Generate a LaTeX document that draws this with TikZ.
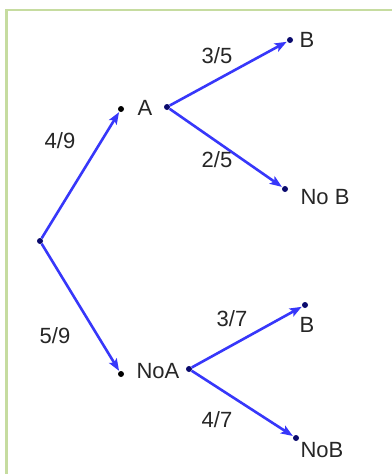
\documentclass[tikz,border=0pt]{standalone}
\usepackage{fontspec}
\setmainfont{Liberation Sans}
\usetikzlibrary{arrows.meta}
\definecolor{arrblue}{RGB}{55,55,250}
\definecolor{frame}{RGB}{198,220,160}
\definecolor{dotblue}{RGB}{10,10,110}
\tikzset{
  dot/.style={circle,fill=#1,inner sep=0pt,minimum size=6pt},
  dot/.default=dotblue,
  arr/.style={draw=arrblue,line width=2.6pt,-{Stealth[length=12pt,width=9pt,inset=2.5pt]},shorten >=0.5pt},
  lbl/.style={font=\fontsize{22}{26}\selectfont,inner sep=0pt,text=black!85}
}
\begin{document}
\begin{tikzpicture}[x=1pt,y=-1pt]
\useasboundingbox (0,0) rectangle (391,474);
\fill[white] (0,0) rectangle (391,474);
\draw[frame,line width=2.5pt] (6.5,480) -- (6.5,10) -- (400,10);
% dots
\node[dot] (r) at (40,241) {};
\node[dot=black] (a) at (121,109) {};
\node[dot] (as) at (167,107) {};
\node[dot] (b1) at (290,40) {};
\node[dot] (nb1) at (285,189) {};
\node[dot=black] (na) at (121,374) {};
\node[dot] (nas) at (189,369) {};
\node[dot] (b2) at (305,305) {};
\node[dot] (nb2) at (296,438) {};
% connectors
\draw[arr] (r) -- (a);
\draw[arr] (r) -- (na);
\draw[arr] (as) -- (b1);
\draw[arr] (as) -- (nb1);
\draw[arr] (nas) -- (b2);
\draw[arr] (nas) -- (nb2);
% labels
\node[lbl] (la) at (145,108) {A};
\node[lbl] (lb1) at (307,40) {B};
\node[lbl] (lnb1) at (325,197) {No B};
\node[lbl] (lna) at (158,371) {NoA};
\node[lbl] (lb2) at (307,325) {B};
\node[lbl] (lnb2) at (322,450) {NoB};
\node[lbl] (p35) at (217,56) {3/5};
\node[lbl] (p49) at (60,141) {4/9};
\node[lbl] (p25) at (217,160) {2/5};
\node[lbl] (p59) at (55,336) {5/9};
\node[lbl] (p37) at (232,319) {3/7};
\node[lbl] (p47) at (217,420) {4/7};
\end{tikzpicture}
\end{document}
